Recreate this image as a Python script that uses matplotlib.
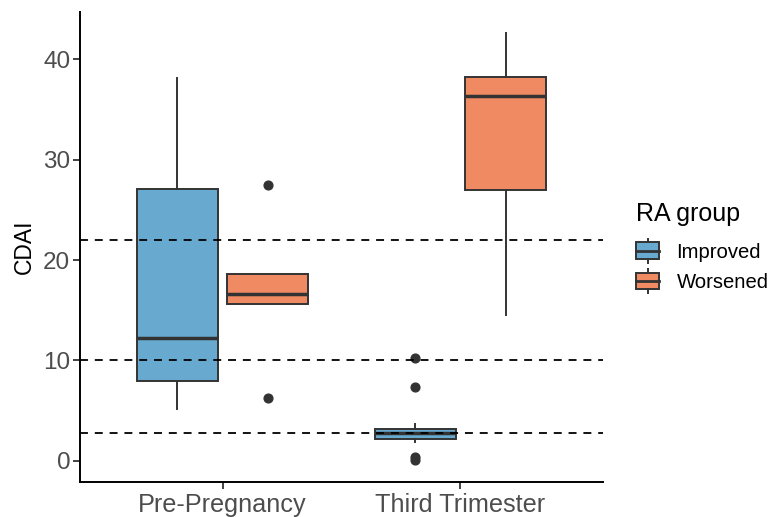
import numpy as np
import matplotlib.pyplot as plt
from matplotlib.legend_handler import HandlerBase
from matplotlib.patches import Rectangle, Patch
from matplotlib.lines import Line2D

plt.rcParams['font.family'] = ['Liberation Sans', 'DejaVu Sans']

categories = ["Pre-Pregnancy", "Third Trimester"]
groups = ["Improved", "Worsened"]
colors = ["#67A9CF", "#EF8A62"]

# box stats: [whisker low, q1, median, q3, whisker high]
improved_stats = [[5.1, 7.9, 12.2, 27.1, 38.1], [1.9, 2.2, 2.8, 3.2, 3.7]]
worsened_stats = [[15.6, 15.6, 16.6, 18.6, 18.6], [14.5, 27.0, 36.4, 38.2, 42.6]]
improved_outliers = [[], [10.2, 7.3, 0.4, 0.05]]
worsened_outliers = [[27.5, 6.2], []]

# CDAI cut-offs (remission / low / moderate)
cutoffs = [2.8, 10, 22]

EDGE = "#333333"


class BoxKey(HandlerBase):
    def create_artists(self, legend, orig_handle, xdescent, ydescent,
                       width, height, fontsize, trans):
        x0, y0 = -xdescent, -ydescent
        stub = height * 0.22
        rect = Rectangle((x0, y0), width, height, facecolor=orig_handle.get_facecolor(),
                         edgecolor=EDGE, linewidth=1.4, transform=trans)
        med = Line2D([x0, x0 + width], [y0 + height / 2] * 2, color=EDGE, lw=2.0,
                     transform=trans)
        top = Line2D([x0 + width / 2] * 2, [y0 + height, y0 + height + stub], color=EDGE,
                     lw=1.4, transform=trans)
        bot = Line2D([x0 + width / 2] * 2, [y0 - stub, y0], color=EDGE, lw=1.4,
                     transform=trans)
        return [rect, med, top, bot]


def to_bxp(stats, fliers):
    out = []
    for s, f in zip(stats, fliers):
        out.append(dict(whislo=s[0], q1=s[1], med=s[2], q3=s[3], whishi=s[4],
                        fliers=f))
    return out


fig = plt.figure(figsize=(7.72, 5.17), dpi=100)
ax = fig.add_axes([80 / 772, 1 - 482 / 517, 523 / 772, 470 / 517])

x = np.arange(1, len(categories) + 1)
offset = 0.19
width = 0.34

for i, (stats, fliers) in enumerate([(improved_stats, improved_outliers),
                                     (worsened_stats, worsened_outliers)]):
    pos = x + (offset if i else -offset)
    ax.bxp(to_bxp(stats, fliers), positions=pos, widths=width, patch_artist=True,
           showcaps=False, manage_ticks=False,
           boxprops=dict(facecolor=colors[i], edgecolor=EDGE, linewidth=1.4),
           medianprops=dict(color=EDGE, linewidth=2.5),
           whiskerprops=dict(color=EDGE, linewidth=1.4),
           flierprops=dict(marker="o", markerfacecolor=EDGE, markeredgecolor=EDGE,
                           markersize=6.3))

for c in cutoffs:
    ax.axhline(c, color="black", linestyle=(0, (4.4, 3.8)), linewidth=1.3, zorder=5)

ax.set_xlim(0.4, 2.6)
ax.set_ylim(-2.13, 44.73)
ax.set_xticks(x)
ax.set_xticklabels(categories)
ax.set_yticks([0, 10, 20, 30, 40])
ax.set_ylabel("CDAI", fontsize=16.5, color="black", labelpad=5)
ax.tick_params(axis="both", labelcolor="#4D4D4D", color="#333333",
               length=5, width=1.3)
ax.tick_params(axis="x", labelsize=18.2, pad=3)
ax.tick_params(axis="y", labelsize=17.5, pad=2)
for side in ["top", "right"]:
    ax.spines[side].set_visible(False)
for side in ["left", "bottom"]:
    ax.spines[side].set_linewidth(1.4)
    ax.spines[side].set_color("black")

handles = [Patch(facecolor=c, label=g) for c, g in zip(colors, groups)]
leg = fig.legend(handles=handles, title="RA group", loc="center left",
                 bbox_to_anchor=(632 / 772, 1 - 247 / 517), frameon=False,
                 fontsize=14.6, title_fontsize=18, handler_map={Patch: BoxKey()},
                 handlelength=1.15, handleheight=0.88, handletextpad=0.85,
                 labelspacing=0.55, alignment="left", borderpad=0.2,
                 borderaxespad=0)
# a bit more room between the title and the keys
leg._legend_box.sep = 12

fig.savefig("out.png", dpi=100)
